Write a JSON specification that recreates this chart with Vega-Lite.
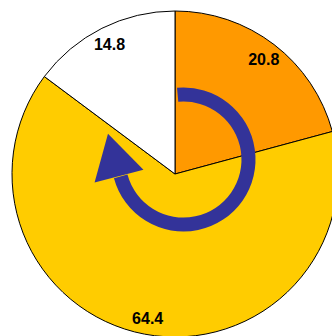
{
  "$schema": "https://vega.github.io/schema/vega-lite/v6.json",
  "width": 350,
  "height": 348,
  "autosize": {"type": "none"},
  "padding": 0,
  "background": "white",
  "view": {"stroke": null},
  "layer": [
    {
      "data": {"values": [
        {"k": "a", "i": 1, "v": 20.8},
        {"k": "b", "i": 2, "v": 64.4},
        {"k": "c", "i": 3, "v": 14.8}
      ]},
      "layer": [
        {
          "mark": {"type": "arc", "radius": 163, "stroke": "black", "strokeWidth": 1},
          "encoding": {
            "theta": {"field": "v", "type": "quantitative", "stack": true},
            "order": {"field": "i", "type": "quantitative"},
            "color": {"field": "k", "type": "nominal", "legend": null,
              "scale": {"domain": ["a", "b", "c"], "range": ["#FF9900", "#FFCC00", "#FFFFFF"]}}
          }
        },
        {
          "mark": {"type": "text", "radius": 146, "dy": 1.5, "font": "Liberation Sans", "fontWeight": "bold", "fontSize": 16, "color": "black", "baseline": "middle", "align": "center"},
          "encoding": {
            "theta": {"field": "v", "type": "quantitative", "stack": true},
            "order": {"field": "i", "type": "quantitative"},
            "text": {"field": "v", "type": "quantitative", "format": ".1f"}
          }
        }
      ]
    },
    {
      "data": {"values": [{"part": "arrow body"}]},
      "mark": {"type": "arc", "theta": -0.09, "theta2": 4.45, "radius": 72, "radius2": 58, "color": "#333399", "xOffset": 8.5, "yOffset": -14.5},
      "encoding": {}
    },
    {
      "data": {"values": [{"part": "arrow head"}]},
      "mark": {"type": "point", "shape": "triangle-up", "filled": true, "size": 2550, "angle": -14.6, "color": "#333399", "opacity": 1, "strokeWidth": 0, "xOffset": -61.5, "yOffset": -19},
      "encoding": {}
    }
  ]
}
